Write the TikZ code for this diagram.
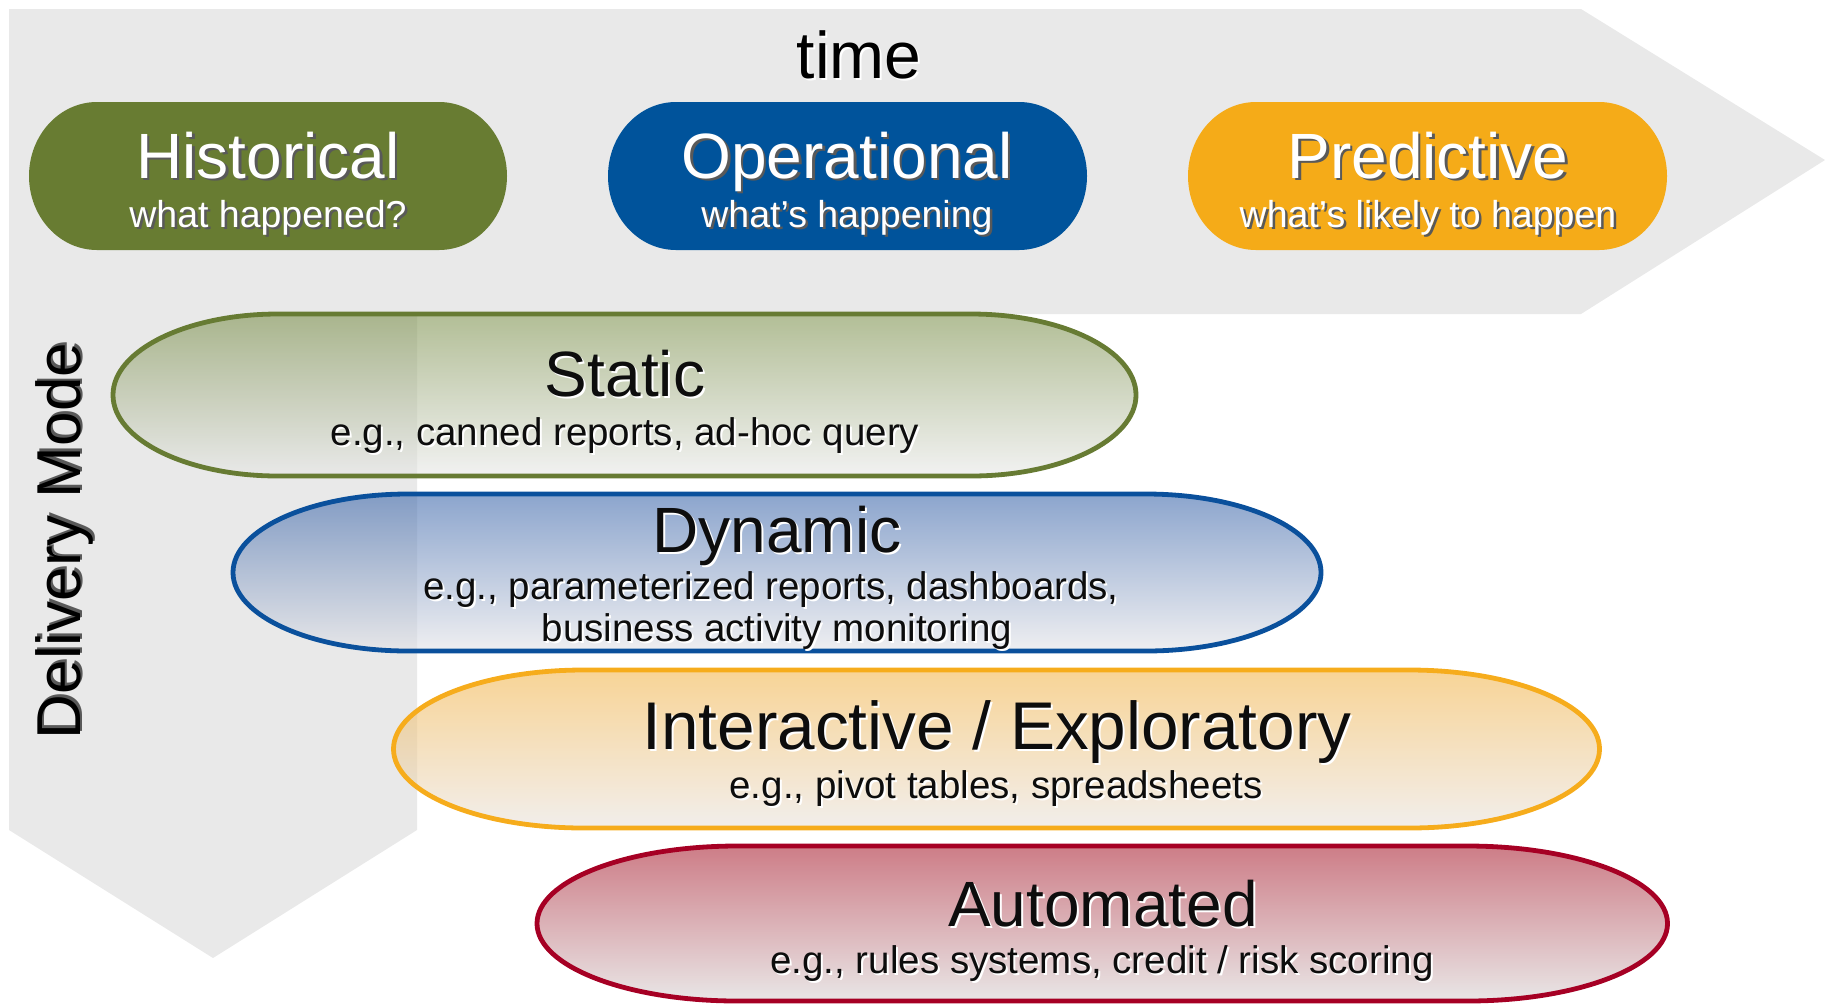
\documentclass[tikz,border=0pt]{standalone}
\usepackage{fontspec}
\setmainfont{Liberation Sans}
\definecolor{bggray}{RGB}{233,233,233}
\definecolor{hgreen}{RGB}{104,124,50}
\definecolor{oblue}{RGB}{0,83,155}
\definecolor{porange}{RGB}{245,171,24}
\definecolor{ared}{RGB}{166,0,36}
\definecolor{gline}{RGB}{103,123,51}
\definecolor{bline}{RGB}{10,80,156}
\definecolor{oline}{RGB}{246,172,28}
\definecolor{stTop}{RGB}{127,147,80}
\definecolor{stBot}{RGB}{233,233,233}
\definecolor{dyTop}{RGB}{63,105,172}
\definecolor{dyBot}{RGB}{228,228,232}
\definecolor{inTop}{RGB}{243,183,80}
\definecolor{inBot}{RGB}{233,227,222}
\definecolor{auTop}{RGB}{172,38,55}
\definecolor{auBot}{RGB}{218,214,214}
\newcommand\wsh[1]{\leavevmode\rlap{\hspace{2.5pt}\raisebox{-2.5pt}{\textcolor{black!65}{#1}}}#1}
\newcommand\bsh[1]{\leavevmode\rlap{\hspace{2pt}\raisebox{-2pt}{\textcolor{white}{#1}}}#1}
\newcommand\bigf{\fontsize{64}{70}\selectfont}
\newcommand\smf{\fontsize{38.5}{43}\selectfont}
\newcommand\pillsm{\fontsize{37.5}{41}\selectfont}
% stadium with elliptical ends: x1,y1,x2,y2,rx,ry
\newcommand\stadpath[6]{({#1+#5},#2) -- ({#3-#5},#2) arc[start angle=90,end angle=-90,x radius=#5pt,y radius=#6pt] -- ({#1+#5},#4) arc[start angle=270,end angle=90,x radius=#5pt,y radius=#6pt] -- cycle}
\tikzset{
  lbl/.style={anchor=base, inner sep=0pt, outer sep=0pt},
  pilltext/.style={lbl, text=white},
  ovaltext/.style={lbl, text=black!95},
  oval/.style={line width=4.8pt, fill opacity=0.6, draw opacity=1},
}
\begin{document}
\begin{tikzpicture}[x=1pt,y=-1pt]
\useasboundingbox (0,0) rectangle (1825,1005);
% background arrows
\fill[bggray] (9,9) -- (1581,9) -- (1825,160) -- (1581,314) -- (417,314) -- (417,830) -- (213,958) -- (9,830) -- cycle;
% pills
\fill[hgreen] \stadpath{29}{102}{507}{250}{68}{74};
\fill[oblue] \stadpath{608}{102}{1087}{250}{68}{74};
\fill[porange] \stadpath{1188}{102}{1667}{250}{68}{74};
% ovals
\shade[oval, draw=gline, top color=stTop, bottom color=stBot] \stadpath{113}{314}{1136}{476}{165}{81};
\shade[oval, draw=bline, top color=dyTop, bottom color=dyBot] \stadpath{233}{494}{1321}{651}{175}{78.5};
\shade[oval, draw=oline, top color=inTop, bottom color=inBot] \stadpath{393.5}{670}{1599.5}{828}{190}{79};
\shade[oval, draw=ared, top color=auTop, bottom color=auBot] \stadpath{537}{846}{1667.5}{1001}{200}{77.5};
% texts
\node[lbl] (time) at (859,78) {\fontsize{66}{70}\selectfont\bsh{time}};
\node[lbl, rotate=90] (mode) at (80,541) {\fontsize{62}{66}\selectfont\wsh{Delivery Mode}};
\node[pilltext] (hist) at (268,178) {\bigf\wsh{Historical}};
\node[pilltext] (histsub) at (268,227) {\pillsm\wsh{what happened?}};
\node[pilltext] (oper) at (847,178) {\bigf\wsh{Operational}};
\node[pilltext] (opersub) at (847,227) {\pillsm\wsh{what’s happening}};
\node[pilltext] (pred) at (1428,178) {\bigf\wsh{Predictive}};
\node[pilltext] (predsub) at (1428,227) {\pillsm\wsh{what’s likely to happen}};
\node[ovaltext] (static) at (625,396) {\bigf\bsh{Static}};
\node[ovaltext] (staticsub) at (625,445) {\smf\bsh{e.g., canned reports, ad-hoc query}};
\node[ovaltext] (dyn) at (777,552) {\bigf\bsh{Dynamic}};
\node[ovaltext] (dynsub) at (771,599) {\smf\bsh{e.g., parameterized reports, dashboards,}};
\node[ovaltext] (dynsub2) at (777,641.5) {\smf\bsh{business activity monitoring}};
\node[ovaltext] (inter) at (997,749) {\fontsize{67.5}{72}\selectfont\bsh{Interactive / Exploratory}};
\node[ovaltext] (intersub) at (996,798) {\smf\bsh{e.g., pivot tables, spreadsheets}};
\node[ovaltext] (auto) at (1103,926) {\bigf\bsh{Automated}};
\node[ovaltext] (autosub) at (1102,973) {\smf\bsh{e.g., rules systems, credit / risk scoring}};
\end{tikzpicture}
\end{document}
